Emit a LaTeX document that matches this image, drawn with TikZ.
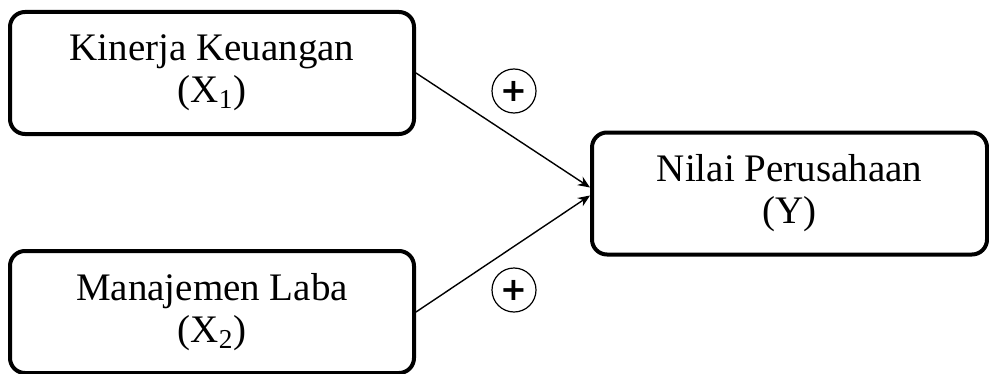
\documentclass[tikz,border=0pt]{standalone}
\usepackage{fontspec}
\setmainfont{Liberation Serif}
\newfontfamily\signfont{DejaVu Sans}
\usetikzlibrary{arrows.meta}
\tikzset{
  varbox/.style={draw, line width=2pt, rounded corners=7.5pt, align=center,
    minimum width=202pt, minimum height=61pt, inner sep=0pt,
    font=\fontsize{19.5}{21}\selectfont},
  signnode/.style={draw, circle, line width=0.6pt, minimum size=22pt, inner sep=0pt,
    font=\signfont\bfseries\fontsize{16}{16}\selectfont},
  effect/.style={-{Stealth[length=6pt,width=5pt]}, line width=0.7pt}
}
\begin{document}
\begin{tikzpicture}[x=0.5pt,y=-0.5pt]
  \useasboundingbox (0,0) rectangle (989,374);
  % variabel independen
  \node[varbox] (kk) at (212,73) {Kinerja Keuangan\\(X\textsubscript{1})};
  \node[varbox] (ml) at (212,312) {Manajemen Laba\\(X\textsubscript{2})};
  % variabel dependen
  \node[varbox, minimum width=197.5pt] (np) at (789.5,193.5) {Nilai Perusahaan\\(Y)};
  \draw[effect] (kk.east) -- ([yshift=3pt]np.west);
  \draw[effect] (ml.east) -- ([yshift=-1pt]np.west);
  \node[signnode] (s1) at (514,91) {+};
  \node[signnode] (s2) at (514,290) {+};
\end{tikzpicture}
\end{document}
